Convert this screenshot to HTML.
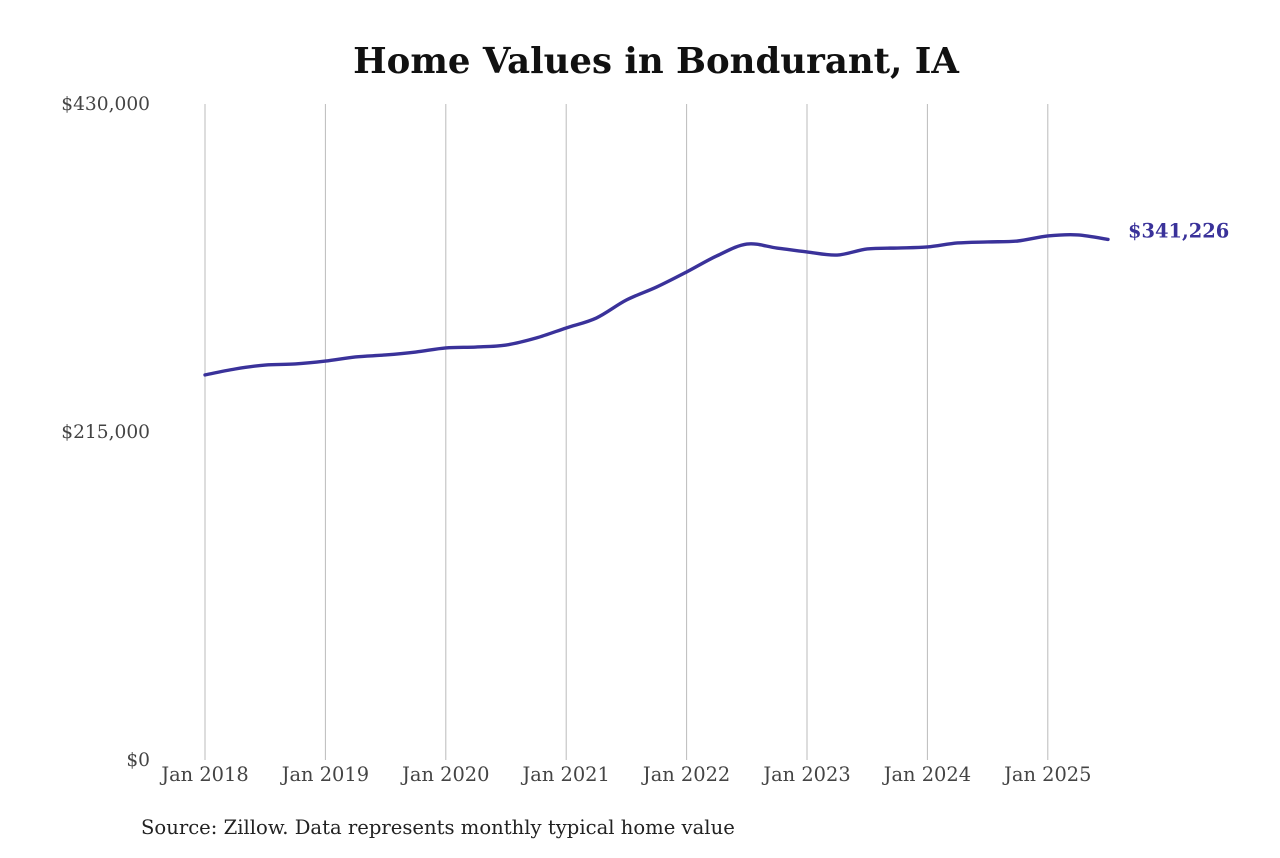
<!DOCTYPE html>
<html><head><meta charset="utf-8">
<style>
html,body{margin:0;padding:0;background:#fff;}
svg text{font-family:"DejaVu Serif","Liberation Serif",serif;}
</style></head>
<body>
<svg id="chart" width="1280" height="853" viewBox="0 0 1280 853" xmlns="http://www.w3.org/2000/svg">
<rect width="1280" height="853" fill="#fff"/>
<text x="656" y="73" text-anchor="middle" font-size="35.5" font-weight="bold" fill="#111">Home Values in Bondurant, IA</text>
<g id="grid"></g>
<g id="yaxis"></g>
<g id="xaxis"></g>
<g id="series"></g>
<text x="141" y="834" font-size="19.6" fill="#222">Source: Zillow. Data represents monthly typical home value</text>
</svg>
<script>
const yearLabels = ["Jan 2018","Jan 2019","Jan 2020","Jan 2021","Jan 2022","Jan 2023","Jan 2024","Jan 2025"];
const yTicks = [0, 215000, 430000];
const yTickLabels = ["$0","$215,000","$430,000"];
// months since Jan 2018
const months = [0,3,6,9,12,15,18,21,24,27,30,33,36,39,42,45,48,51,54,57,60,63,66,69,72,75,78,81,84,87,90];
const values = [252400,256300,258900,259600,261500,264200,265500,267400,270100,270700,272000,276600,283200,289700,301500,310000,319900,330400,338200,335600,333000,331000,335000,335600,336300,338900,339600,340200,343500,344200,341226];
const lastLabel = "$341,226";

const NS="http://www.w3.org/2000/svg";
const x0=205, perYear=120.4, yTop=104, yBot=760, yMax=430000;
const xs = m => x0 + perYear*m/12;
const ys = v => yBot - (v/yMax)*(yBot-yTop);
function mk(tag, attrs, parent){const e=document.createElementNS(NS,tag);for(const k in attrs)e.setAttribute(k,attrs[k]);parent.appendChild(e);return e;}
const grid=document.getElementById('grid'), xa=document.getElementById('xaxis'), ya=document.getElementById('yaxis'), ser=document.getElementById('series');
yearLabels.forEach((lab,i)=>{
  const x=xs(i*12);
  const l=mk('line',{x1:x,x2:x,y1:yTop,y2:yBot,stroke:'#bbb','stroke-width':1},grid);
  
  
  const t=mk('text',{x:x,y:781,'text-anchor':'middle','font-size':19.4,fill:'#444'},xa);
  t.textContent=lab;
  
  
});
yTicks.forEach((v,i)=>{
  const t=mk('text',{x:150,y:ys(v)+6,'text-anchor':'end','font-size':18.6,fill:'#444'},ya);
  t.textContent=yTickLabels[i];
  
  
});
const pts=months.map((m,i)=>[xs(m),ys(values[i])]);
let d='M'+pts[0][0]+','+pts[0][1];
for(let i=0;i<pts.length-1;i++){
  const p0=pts[Math.max(0,i-1)],p1=pts[i],p2=pts[i+1],p3=pts[Math.min(pts.length-1,i+2)];
  const c1=[p1[0]+(p2[0]-p0[0])/6,p1[1]+(p2[1]-p0[1])/6];
  const c2=[p2[0]-(p3[0]-p1[0])/6,p2[1]-(p3[1]-p1[1])/6];
  d+=' C'+c1+' '+c2+' '+p2;
}
const path=mk('path',{d:d,fill:'none',stroke:'#3a329a','stroke-width':3.4,'stroke-linejoin':'round','stroke-linecap':'round'},ser);


const last=pts[pts.length-1];
const lt=mk('text',{x:last[0]+20,y:last[1]-2,'font-size':19.4,'font-weight':'bold',fill:'#3a329a'},ser);
lt.textContent=lastLabel;


</script>
</body></html>
